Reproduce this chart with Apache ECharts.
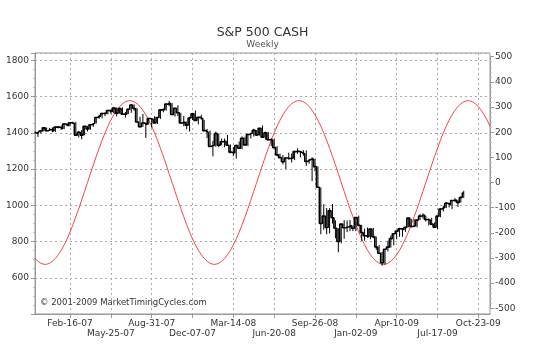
<!DOCTYPE html>
<html><head><meta charset="utf-8">
<script src="https://cdn.jsdelivr.net/npm/echarts@6/dist/echarts.min.js"></script>
<style>html,body{margin:0;padding:0;background:#fff}#c{width:541px;height:359px}</style>
</head><body><div id="c"></div>
<script>
// ---- data ----
const startDateUTC = Date.UTC(2006, 10, 24); // first weekly bar (Fri Nov-24-06)
const weekCount = 157;                      // axis spans to Nov-27-09
const monthNames = ['Jan','Feb','Mar','Apr','May','Jun','Jul','Aug','Sep','Oct','Nov','Dec'];
const tickLabels = ['Feb-16-07','May-25-07','Aug-31-07','Dec-07-07','Mar-14-08','Jun-20-08',
                    'Sep-26-08','Jan-02-09','Apr-10-09','Jul-17-09','Oct-23-09'];
const priceTicks = [600, 800, 1000, 1200, 1400, 1600, 1800];

const closes = [
1401,1397,1410,1427,1411,1418,1410,1431,1431,1422,
1448,1438,1455,1451,1387,1403,1387,1436,1421,1444,
1453,1484,1494,1506,1506,1523,1516,1536,1508,1533,
1503,1503,1530,1553,1534,1459,1433,1454,1446,1479,
1474,1454,1484,1526,1527,1558,1562,1501,1535,1510,
1454,1459,1441,1481,1505,1468,1485,1478,1412,1401,
1325,1331,1395,1331,1350,1353,1331,1293,1288,1330,
1315,1370,1333,1390,1398,1414,1388,1425,1376,1400,
1361,1360,1318,1278,1263,1240,1261,1258,1260,1296,
1298,1292,1283,1242,1252,1255,1213,1099,899,941,
877,969,931,873,800,896,876,880,888,873,
932,890,850,832,826,869,827,770,735,683,
757,769,816,843,857,870,866,878,929,883,
887,919,940,946,921,919,896,879,940,979,
988,1011,1004,1026,1029,1016,1043,1068];
const highs = [
1407,1406,1415,1431,1429,1427,1429,1432,1435,1440,
1452,1453,1457,1461,1460,1409,1415,1438,1438,1446,
1453,1484,1498,1510,1513,1523,1529,1540,1540,1539,
1540,1514,1532,1556,1556,1536,1488,1504,1456,1482,
1482,1491,1485,1530,1535,1559,1576,1564,1536,1552,
1510,1493,1462,1488,1510,1523,1485,1499,1471,1421,
1412,1355,1406,1396,1368,1368,1388,1335,1321,1334,
1352,1380,1378,1395,1400,1422,1415,1426,1440,1406,
1405,1370,1367,1326,1285,1277,1263,1290,1285,1300,
1314,1300,1304,1303,1256,1265,1255,1214,1098,1006,
985,984,1007,917,874,897,918,916,918,888,
934,943,892,871,877,870,875,827,780,743,
758,804,833,846,858,876,874,880,930,925,
924,921,951,956,943,928,931,906,941,982,
998,1018,1013,1027,1039,1030,1049,1080];
const lows = [
1398,1377,1396,1408,1407,1410,1403,1405,1424,1416,
1420,1437,1435,1449,1386,1374,1364,1386,1407,1416,
1433,1451,1478,1480,1491,1501,1505,1507,1490,1505,
1500,1484,1503,1510,1522,1458,1430,1433,1371,1445,
1429,1452,1449,1476,1513,1522,1547,1500,1489,1492,
1450,1436,1419,1407,1470,1467,1446,1472,1411,1371,
1323,1270,1322,1320,1331,1320,1328,1286,1271,1257,
1311,1310,1329,1326,1368,1379,1382,1384,1374,1362,
1358,1327,1315,1272,1261,1225,1200,1251,1236,1249,
1284,1264,1273,1217,1229,1133,1187,1097,840,865,
840,845,899,818,741,790,815,852,857,857,
857,883,804,804,821,812,818,754,734,666,
672,745,766,779,814,826,826,853,878,878,
879,878,919,927,910,888,896,875,869,934,
966,985,988,979,1017,991,1014,1041];
const cycle = [
-302,-313,-321,-325,
-325,-321,-313,-302,-287,-269,-248,-224,-197,-168,-136,-104,-70,-35,0,35,70,104,136,168,197,224,248,269,287,302,313,321,325,
325,321,313,302,287,269,248,224,197,168,136,104,70,35,0,-35,-70,-104,-136,-168,-197,-224,-248,-269,-287,-302,-313,-321,-325,
-325,-321,-313,-302,-287,-269,-248,-224,-197,-168,-136,-104,-70,-35,0,35,70,104,136,168,197,224,248,269,287,302,313,321,325,
325,321,313,302,287,269,248,224,197,168,136,104,70,35,0,-35,-70,-104,-136,-168,-197,-224,-248,-269,-287,-302,-313,-321,-325,
-325,-321,-313,-302,-287,-269,-248,-224,-197,-168,-136,-104,-70,-35,0,35,70,104,136,168,197,224,248,269,287,302,313,321,325,
325,321,313,302,287,269,248,224];

// ---- build ----
const categories = [];
for (let i = 0; i < weekCount; i++) {
  const d = new Date(startDateUTC + i * 7 * 86400000);
  categories.push(monthNames[d.getUTCMonth()] + '-' + String(d.getUTCDate()).padStart(2, '0') + '-' + String(d.getUTCFullYear() % 100).padStart(2, '0'));
}
const tickRank = (idx) => tickLabels.indexOf(categories[idx]);
const isTick = (idx) => tickRank(idx) >= 0;
const isUpper = (idx) => tickRank(idx) >= 0 && tickRank(idx) % 2 === 0;
const isLower = (idx) => tickRank(idx) >= 0 && tickRank(idx) % 2 === 1;
const hl = closes.map((c, i) => [i, highs[i], lows[i]]);

const FONT = 'DejaVu Sans';
const grey = '#999';
const gridDash = { color: '#aaa', type: [2, 3], width: 1 };
const xLabelBase = { hideOverlap: false, showMinLabel: true, showMaxLabel: true, fontFamily: FONT, fontSize: 9, color: '#333' };

const chart = echarts.init(document.getElementById('c'), null, { renderer: 'canvas' });
chart.setOption({
  animation: false,
  backgroundColor: '#fff',
  grid: [
    { left: 35, right: 51, top: 53, bottom: 45, show: true, borderColor: grey, borderWidth: 1 },
    { left: 35, right: 51, top: 56.7, bottom: 50.7 }
  ],
  graphic: [
    { type: 'text', x: 262.5, y: 33, style: { text: 'S&P 500 CASH', font: '12.5px "' + FONT + '"', fill: '#333', textAlign: 'center', textVerticalAlign: 'middle' } },
    { type: 'text', x: 262.5, y: 44.5, style: { text: 'Weekly', font: '9px "' + FONT + '"', fill: '#555', textAlign: 'center', textVerticalAlign: 'middle' } },
    { type: 'text', x: 40, y: 303, z: 10, style: { text: '\u00a9 2001-2009 MarketTimingCycles.com', font: '8.5px "' + FONT + '"', fill: '#333', textAlign: 'left', textVerticalAlign: 'middle' } }
  ],
  xAxis: [
    {
      type: 'category', gridIndex: 0, data: categories, boundaryGap: false, position: 'bottom',
      axisLine: { show: true, lineStyle: { color: grey } },
      axisTick: { show: true, interval: (i) => isTick(i), length: 4, lineStyle: { color: grey } },
      axisLabel: Object.assign({ interval: (i) => isUpper(i), margin: 5 }, xLabelBase),
      splitLine: { show: true, interval: (i) => isTick(i), lineStyle: gridDash }
    },
    { type: 'category', gridIndex: 1, data: categories, boundaryGap: false, show: false },
    {
      type: 'category', gridIndex: 0, data: categories, boundaryGap: false, position: 'bottom',
      axisLine: { show: false }, axisTick: { show: false }, splitLine: { show: false },
      axisLabel: Object.assign({ interval: (i) => isLower(i), margin: 15 }, xLabelBase)
    }
  ],
  yAxis: [
    {
      type: 'value', gridIndex: 0, position: 'left', min: 400, max: 1840, interval: 200,
      axisLine: { show: true, lineStyle: { color: grey } },
      axisTick: { show: true, length: 4, lineStyle: { color: grey } },
      minorTick: { show: true, splitNumber: 4, length: 2, lineStyle: { color: '#bbb' } },
      axisLabel: {
        margin: 6, fontFamily: FONT, fontSize: 9, color: '#333',
        formatter: (v) => (priceTicks.indexOf(v) >= 0 ? String(v) : '')
      },
      splitLine: { show: true, lineStyle: gridDash }
    },
    {
      type: 'value', gridIndex: 1, position: 'right', min: -500, max: 500, interval: 100,
      axisLine: { show: true, lineStyle: { color: grey } },
      axisTick: { show: true, length: 4, lineStyle: { color: grey } },
      minorTick: { show: true, splitNumber: 5, length: 2, lineStyle: { color: '#bbb' } },
      axisLabel: { margin: 5, fontFamily: FONT, fontSize: 9, color: '#333' },
      splitLine: { show: false }
    }
  ],
  series: [
    {
      type: 'line', xAxisIndex: 1, yAxisIndex: 1, data: cycle, showSymbol: false, symbol: 'none',
      lineStyle: { color: '#f04848', width: 1 }, z: 2
    },
    {
      type: 'line', xAxisIndex: 0, yAxisIndex: 0, data: closes, step: 'middle', showSymbol: false, symbol: 'none',
      lineStyle: { color: '#000', width: 1.6 }, z: 3
    },
    {
      type: 'custom', xAxisIndex: 0, yAxisIndex: 0, data: hl, z: 3,
      encode: { x: 0, y: [1, 2] },
      renderItem: function (params, api) {
        const i = api.value(0);
        const ph = api.coord([i, api.value(1)]);
        const pl = api.coord([i, api.value(2)]);
        return { type: 'line', shape: { x1: ph[0], y1: ph[1], x2: pl[0], y2: pl[1] }, style: { stroke: '#000', lineWidth: 1 } };
      }
    }
  ]
});
</script>
</body></html>
